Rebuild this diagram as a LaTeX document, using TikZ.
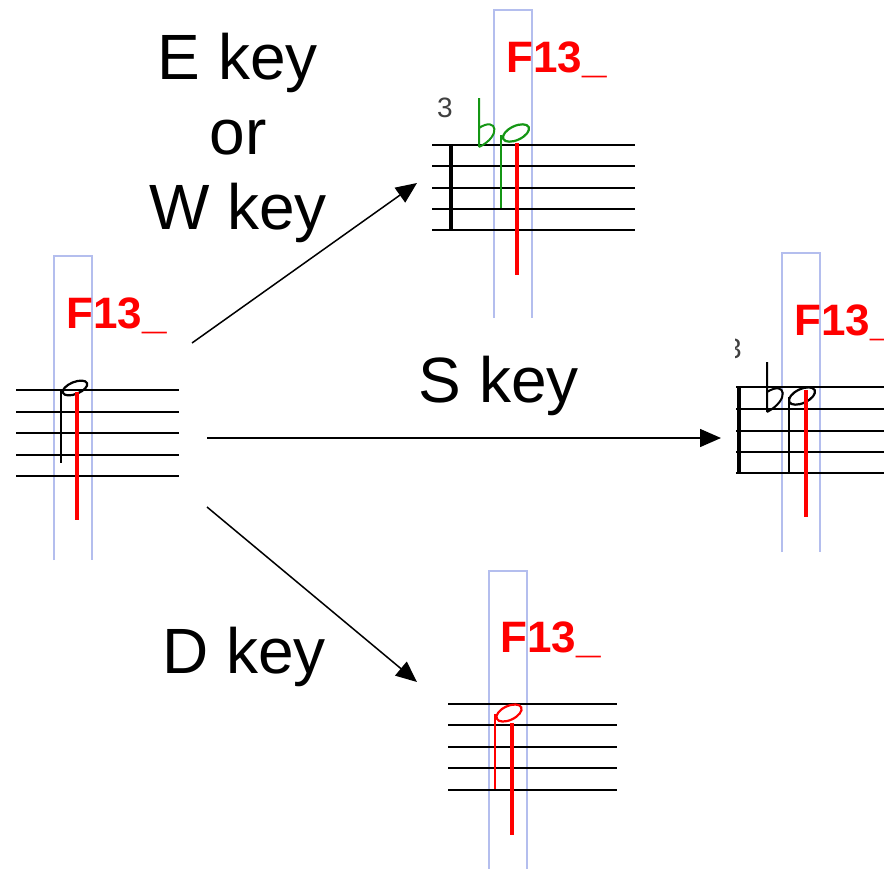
\documentclass[tikz,border=0pt]{standalone}
\usepackage{fontspec}
\setmainfont{Liberation Sans}
\usetikzlibrary{arrows.meta}

\definecolor{boxblue}{RGB}{180,190,238}
\definecolor{notegreen}{RGB}{20,150,20}

\begin{document}
\begin{tikzpicture}[
  x=1pt, y=-1pt,
  keylabel/.style={font=\fontsize{64}{75}\selectfont, inner sep=0pt},
  chordlbl/.style={font=\fontsize{44}{50}\selectfont\bfseries, text=red, inner sep=0pt, anchor=base west},
  barnum/.style={font=\fontsize{28}{30}\selectfont, text=black!75, inner sep=0pt, anchor=base west},
  selbox/.style={draw=boxblue, line width=1.5pt},
  staffline/.style={draw=black, line width=2pt},
  barline/.style={draw=black, line width=4.5pt},
  cursor/.style={draw=red, line width=4pt},
  notehead/.style={line width=2.2pt},
  notestem/.style={line width=1.5pt},
  keymap/.style={-{Triangle[length=21pt,width=18pt]}, draw=black, line width=1.5pt}
]
  \useasboundingbox (0,0) rectangle (884,868);

  % --- original note (left)
  \draw[selbox] (54,560) -- (54,256) -- (92,256) -- (92,560);
  \node[chordlbl] (lblorig) at (66,328) {F13\_};
  \foreach \yy in {390,411.5,433,454.5,476}
    \draw[staffline] (16,\yy) -- (179,\yy);
  \draw[notehead] (75,388) ellipse[x radius=13, y radius=6, rotate=22];
  \draw[notestem] (61,390) -- (61,463);
  \draw[cursor] (77,392) -- (77,520);

  % --- E / W key result (top)
  \draw[selbox] (494,318) -- (494,10) -- (532,10) -- (532,318);
  \node[chordlbl] (lblup) at (506,72) {F13\_};
  \node[barnum] (numup) at (437,117) {3};
  \foreach \yy in {145,166,188,209,230}
    \draw[staffline] (432,\yy) -- (635,\yy);
  \draw[barline] (451,145) -- (451,230);
  \draw[notegreen, line width=2pt] (479,98) -- (479,147)
    (479,128) .. controls (497,116) and (502,136) .. (479,147);
  \draw[notegreen, notehead] (516,133) ellipse[x radius=14, y radius=7, rotate=25];
  \draw[notegreen, notestem] (501,135) -- (501,208);
  \draw[cursor] (517,143) -- (517,275);

  % --- S key result (right), cut at the picture edge
  \begin{scope}
    \clip (735,0) rectangle (884,868);
    \draw[selbox] (782,552) -- (782,253) -- (820,253) -- (820,552);
    \node[chordlbl] (lblright) at (794,335) {F13\_};
    \node[barnum] (numright) at (726,358) {3};
    \foreach \yy in {387,409,431,452,473}
      \draw[staffline] (736,\yy) -- (884,\yy);
    \draw[barline] (739,387) -- (739,473);
    \draw[line width=2pt] (767,362) -- (767,412)
      (767,392) .. controls (786,380) and (790,400) .. (767,412);
    \draw[notehead] (802,396) ellipse[x radius=14, y radius=7, rotate=25];
    \draw[notestem] (789,397) -- (789,472);
    \draw[cursor] (806,390) -- (806,517);
  \end{scope}

  % --- D key result (bottom)
  \draw[selbox] (489,870) -- (489,571) -- (527,571) -- (527,870);
  \node[chordlbl] (lbldown) at (500,652) {F13\_};
  \foreach \yy in {704,725,747,768,790}
    \draw[staffline] (448,\yy) -- (617,\yy);
  \draw[red, notehead] (509,713) ellipse[x radius=13.5, y radius=7, rotate=25];
  \draw[red, notestem] (495,714) -- (495,789);
  \draw[cursor] (512,723) -- (512,835);

  % --- key labels
  \node[keylabel, align=center, anchor=north] (ewkey) at (238,33) {E key\\or\\W key};
  \node[keylabel, anchor=base] (skey) at (499,402) {S key};
  \node[keylabel, anchor=base] (dkey) at (244,673) {D key};

  % --- arrows
  \coordinate (fromup) at (192,343);
  \coordinate (toup) at (417,183);
  \coordinate (fromright) at (207,438);
  \coordinate (toright) at (721,438);
  \coordinate (fromdown) at (207,507);
  \coordinate (todown) at (417,682);
  \draw[keymap] (fromup) -- (toup);
  \draw[keymap] (fromright) -- (toright);
  \draw[keymap] (fromdown) -- (todown);
\end{tikzpicture}
\end{document}
